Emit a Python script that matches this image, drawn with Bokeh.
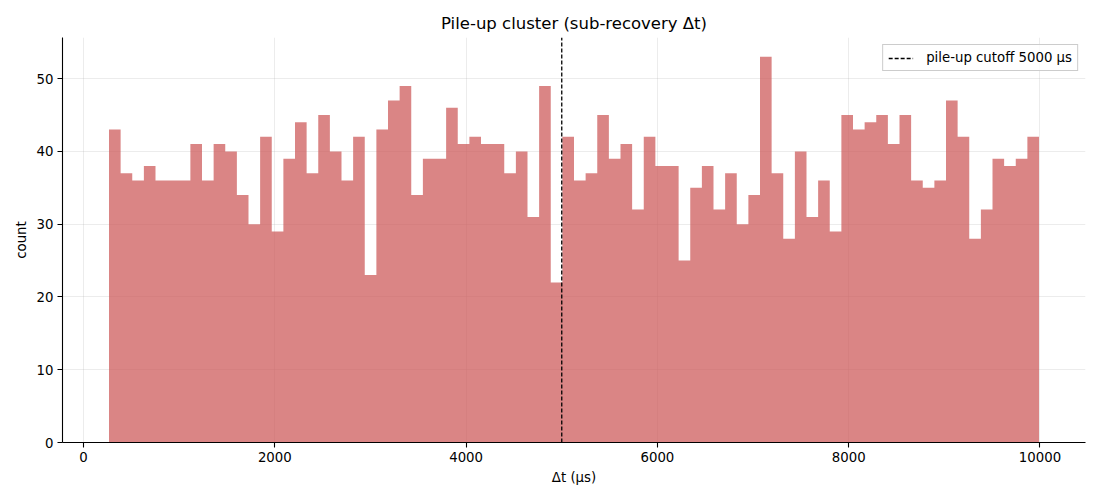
import numpy as np
from bokeh.plotting import figure
from bokeh.models import Range1d, Legend, LegendItem, FixedTicker
from bokeh.embed import file_html
from bokeh.resources import INLINE

# Histogram counts per bin (80 equal-width bins)
counts = [43, 37, 36, 38, 36, 36, 36, 41, 36, 41, 40, 34, 30, 42, 29, 39, 44, 37, 45, 40,
          36, 42, 23, 43, 47, 49, 34, 39, 39, 46, 41, 42, 41, 41, 37, 40, 31, 49, 22, 42,
          36, 37, 45, 39, 41, 32, 42, 38, 38, 25, 35, 38, 32, 37, 30, 34, 53, 37, 28, 40,
          31, 36, 29, 45, 43, 44, 45, 41, 45, 36, 35, 36, 47, 42, 28, 32, 39, 38, 39, 42]
dt_min = 266      # lowest Δt (μs)
dt_max = 9990     # highest Δt (μs)
cutoff = 5000     # pile-up cutoff (μs)
x_ticks = [0, 2000, 4000, 6000, 8000, 10000]
y_ticks = [0, 10, 20, 30, 40, 50]
legend_label = "pile-up cutoff 5000 μs"

FONT = "DejaVu Sans"

edges = np.linspace(dt_min, dt_max, len(counts) + 1)
pad = 0.05 * (dt_max - dt_min)
y_top = max(counts) * 1.05

p = figure(width=1100, height=500, output_backend="svg", toolbar_location=None,
           x_range=Range1d(dt_min - pad, dt_max + pad),
           y_range=Range1d(0, y_top),
           min_border_left=62, min_border_right=15, min_border_top=37, min_border_bottom=58)

p.title.text = "Pile-up cluster (sub-recovery Δt)"
p.title.align = "center"
p.title.text_font = FONT
p.title.text_font_size = "16.5px"
p.title.text_font_style = "normal"
p.title.text_color = "black"

# histogram drawn as one stepped area (no seams between bins)
p.varea_step(x=edges, y1=np.zeros(len(edges)), y2=list(counts) + [counts[-1]],
             step_mode="after", fill_color="indianred", fill_alpha=0.75)

cut = p.segment(x0=[cutoff], y0=[0], x1=[cutoff], y1=[y_top], line_color="black",
                line_width=1.3, line_dash="4 2")
legend = Legend(items=[LegendItem(label=legend_label, renderers=[cut])],
                location="top_right", margin=7, padding=5, spacing=0,
                label_text_font=FONT, label_text_font_size="13.3px",
                label_text_color="black",
                label_standoff=13, glyph_width=25, glyph_height=14,
                border_line_color="#cccccc", border_line_alpha=1.0,
                background_fill_alpha=0.8)
p.add_layout(legend)

p.outline_line_color = None
for g in (p.xgrid, p.ygrid):
    g.grid_line_color = "#b0b0b0"
    g.grid_line_alpha = 0.3
    g.grid_line_width = 0.8
p.xgrid.ticker = FixedTicker(ticks=x_ticks)
p.ygrid.ticker = FixedTicker(ticks=y_ticks)

p.xaxis.ticker = FixedTicker(ticks=x_ticks)
p.yaxis.ticker = FixedTicker(ticks=y_ticks)
p.xaxis.axis_label = "Δt (μs)"
p.yaxis.axis_label = "count"
for ax in (p.xaxis, p.yaxis):
    ax.axis_label_text_font = FONT
    ax.axis_label_text_font_size = "13.3px"
    ax.axis_label_text_font_style = "normal"
    ax.axis_label_text_color = "black"
    ax.major_label_text_font = FONT
    ax.major_label_text_font_size = "13.3px"
    ax.major_label_text_color = "black"
    ax.axis_line_color = "black"
    ax.major_tick_line_color = "black"
    ax.major_tick_in = 0
    ax.major_tick_out = 5
    ax.minor_tick_line_color = None
    ax.axis_line_width = 1.1
    ax.major_tick_line_width = 1.1
    ax.major_label_standoff = 4
    ax.axis_label_standoff = 5
p.yaxis.major_label_orientation = "horizontal"

open("out.html", "w").write(file_html(p, INLINE))
